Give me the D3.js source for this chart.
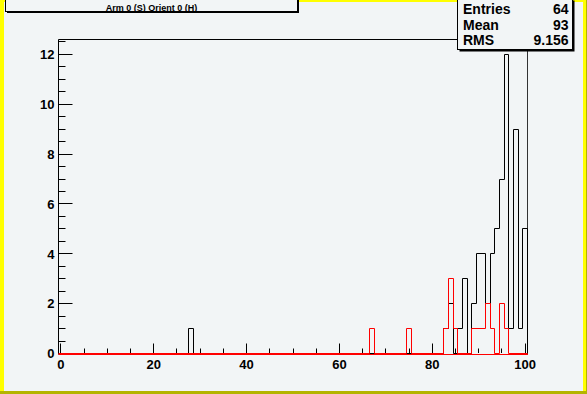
<!DOCTYPE html>
<html>
<head>
<meta charset="utf-8">
<script src="https://cdn.jsdelivr.net/npm/d3@7"></script>
<style>
  html, body { margin: 0; padding: 0; background: #f2f5f6; }
  svg { display: block; }
  text { font-family: "Liberation Sans", Arial, Helvetica, sans-serif; font-weight: bold; fill: #000; }
</style>
</head>
<body>
<svg id="chart" width="587" height="394"></svg>
<script>
// ---- data ----
const titleText = "Arm 0 (S) Orient 0 (H)";
const xTicks = [0, 20, 40, 60, 80, 100];
const yTicks = [0, 2, 4, 6, 8, 10, 12];
const blackBins   = [28, 83, 84, 86, 87, 89, 90, 91, 92, 93, 94, 95, 96, 97, 98, 99, 100];
const blackCounts = [ 1,  1,  2,  1,  3,  2,  4,  4,  2,  4,  5,  7, 12,  1,  9,  1,   5];
const redBins     = [67, 75, 83, 84, 85, 89, 90, 91, 92, 93, 95, 96];
const redCounts   = [ 1,  1,  1,  3,  1,  1,  1,  1,  2,  1,  2,  1];
const statLabels  = ["Entries", "Mean", "RMS"];
const statValues  = ["64", "93", "9.156"];

const W = 587, H = 394;
const xMin = -0.5, xMax = 100.5, nBins = 101, yMax = 12.6;
const svg = d3.select("#chart");
const snap = v => Math.round(v - 0.5) + 0.5;

// canvas background + bevel border
svg.append("rect").attr("x", 0).attr("y", 0).attr("width", W).attr("height", H).attr("fill", "#f2f5f6");
svg.append("rect").attr("x", 0).attr("y", 0).attr("width", W).attr("height", 2).attr("fill", "#ffff00");
svg.append("rect").attr("x", 0).attr("y", 0).attr("width", 4).attr("height", H).attr("fill", "#ffff00");
svg.append("rect").attr("x", W - 4).attr("y", 0).attr("width", 4).attr("height", H).attr("fill", "#ffff00");
svg.append("rect").attr("x", 0).attr("y", H - 3).attr("width", W).attr("height", 3).attr("fill", "#b4b400");
svg.append("rect").attr("x", W - 1).attr("y", 0).attr("width", 1).attr("height", H).attr("fill", "#b4b400");

const fx0 = 58.5, fx1 = 527.5, fy0 = 39.5, fy1 = 353.5;
const x = d3.scaleLinear().domain([xMin, xMax]).range([fx0, fx1]);
const y = d3.scaleLinear().domain([0, yMax]).range([fy1, fy0]);

// frame
const frame = svg.append("g").attr("fill", "none");
frame.append("line").attr("x1", fx0).attr("x2", fx1).attr("y1", fy0).attr("y2", fy0).attr("stroke", "#000");
frame.append("line").attr("x1", fx1).attr("x2", fx1).attr("y1", fy0).attr("y2", fy1 + 1).attr("stroke", "#333");
frame.append("line").attr("x1", fx0).attr("x2", fx0).attr("y1", fy0).attr("y2", fy1 + 1).attr("stroke", "#000");

// axes ticks (inside, ROOT style)
const xMajorLen = 10, xMinorLen = 5, yMajorLen = 14, yMinorLen = 7;
const xMinor = d3.range(0, 101, 5).filter(v => !xTicks.includes(v));
const yMinor = d3.range(0, 12.6, 0.5).filter(v => !yTicks.includes(v));
const tickG = svg.append("g").attr("stroke", "#000").attr("stroke-width", 1);
xTicks.forEach(v => tickG.append("line").attr("x1", snap(x(v))).attr("x2", snap(x(v))).attr("y1", fy1 - 0.5).attr("y2", fy1 - xMajorLen));
xMinor.forEach(v => tickG.append("line").attr("x1", snap(x(v))).attr("x2", snap(x(v))).attr("y1", fy1 - 0.5).attr("y2", fy1 - xMinorLen));
yTicks.filter(v => v > 0).forEach(v => tickG.append("line").attr("x1", fx0).attr("x2", fx0 + yMajorLen).attr("y1", snap(y(v))).attr("y2", snap(y(v))));
yMinor.forEach(v => tickG.append("line").attr("x1", fx0).attr("x2", fx0 + yMinorLen).attr("y1", snap(y(v))).attr("y2", snap(y(v))));

// tick labels
svg.append("g").selectAll("text").data(xTicks).join("text")
  .attr("x", d => x(d)).attr("y", 368.5).attr("text-anchor", "middle")
  .style("font-size", "13px").text(d => d);
svg.append("g").selectAll("text").data(yTicks).join("text")
  .attr("x", 54.5).attr("y", d => y(d) + 4.8).attr("text-anchor", "end")
  .style("font-size", "13px").text(d => d);

// histograms (step outlines, redundant points removed)
function fullBins(bins, counts) {
  const arr = new Array(nBins).fill(0);
  bins.forEach((b, i) => { arr[Math.round(b - xMin - 0.5)] = counts[i]; });
  return arr;
}
function stepPoints(vals) {
  const pts = [[snap(x(xMin)), snap(y(0))]];
  vals.forEach((v, i) => {
    const lo = xMin + i, hi = lo + 1;
    pts.push([snap(x(lo)), snap(y(v))]);
    pts.push([snap(x(hi)), snap(y(v))]);
  });
  pts.push([snap(x(xMax)), snap(y(0))]);
  const out = [];
  pts.forEach(p => {
    const n = out.length;
    if (n && out[n - 1][0] === p[0] && out[n - 1][1] === p[1]) return;
    if (n >= 2) {
      const a = out[n - 2], b = out[n - 1];
      if ((a[0] === b[0] && b[0] === p[0]) || (a[1] === b[1] && b[1] === p[1])) { out[n - 1] = p; return; }
    }
    out.push(p);
  });
  return out;
}
const line = d3.line();
svg.append("path").attr("d", line(stepPoints(fullBins(blackBins, blackCounts))))
  .attr("fill", "none").attr("stroke", "#000").attr("stroke-width", 1);
const redPts = stepPoints(fullBins(redBins, redCounts));
svg.append("path").attr("d", line(redPts))
  .attr("fill", "none").attr("stroke", "#ff0000").attr("stroke-width", 1);
// red baseline (zero level) drawn slightly heavier as in the reference
svg.append("line").attr("x1", fx0).attr("x2", fx1 + 0.5).attr("y1", snap(y(0)) + 1).attr("y2", snap(y(0)) + 1)
  .attr("stroke", "#ff0000").attr("stroke-width", 1);

// title box
const tb = {x: 5.5, y: -1.5, w: 292, h: 13};
svg.append("rect").attr("x", tb.x + 1.5).attr("y", tb.y + 1.5).attr("width", tb.w).attr("height", tb.h).attr("fill", "#000");
svg.append("rect").attr("x", tb.x).attr("y", tb.y).attr("width", tb.w).attr("height", tb.h)
  .attr("fill", "#f2f5f6").attr("stroke", "#000").attr("stroke-width", 1);
svg.append("text").attr("x", tb.x + tb.w / 2).attr("y", 10.5).attr("text-anchor", "middle")
  .style("font-size", "9px").text(titleText);

// stats box
const sb = {x: 457.5, y: -1.5, w: 115, h: 51};
svg.append("rect").attr("x", sb.x + 2).attr("y", sb.y + 2).attr("width", sb.w).attr("height", sb.h).attr("fill", "#000");
svg.append("rect").attr("x", sb.x).attr("y", sb.y).attr("width", sb.w).attr("height", sb.h)
  .attr("fill", "#f2f5f6").attr("stroke", "#000").attr("stroke-width", 1);
const rowY = [13.5, 29.5, 45];
statLabels.forEach((l, i) => {
  svg.append("text").attr("x", 463).attr("y", rowY[i]).style("font-size", "14px").text(l);
  svg.append("text").attr("x", 568.5).attr("y", rowY[i]).attr("text-anchor", "end").style("font-size", "14px").text(statValues[i]);
});
</script>
</body>
</html>
